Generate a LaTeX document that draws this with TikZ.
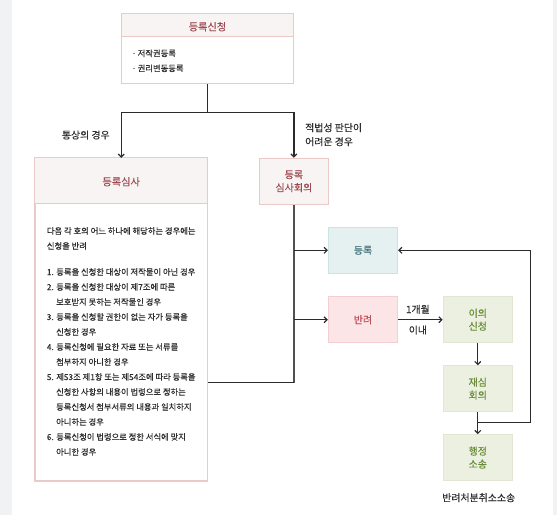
\documentclass[tikz,border=0pt]{standalone}
\usepackage{fontspec}
\setmainfont{Noto Sans CJK KR}[BoldFont=Noto Sans CJK KR,BoldFeatures={FakeBold=0.3}]
\usetikzlibrary{arrows.meta,calc}
\definecolor{stripgray}{HTML}{F1F2F4}
\definecolor{pinkline}{HTML}{EBC9C7}
\definecolor{headfill}{HTML}{F8F4F3}
\definecolor{titlered}{HTML}{9E4A52}
\definecolor{bodytext}{HTML}{2E2E2E}
\definecolor{regfill}{HTML}{E5F0F1}
\definecolor{regline}{HTML}{CBE3E3}
\definecolor{regtext}{HTML}{3E6E77}
\definecolor{rejfill}{HTML}{FCE5E6}
\definecolor{rejline}{HTML}{F4CED1}
\definecolor{rejtext}{HTML}{BF4F5B}
\definecolor{grnfill}{HTML}{EBF0E0}
\definecolor{grnline}{HTML}{E0E8D3}
\definecolor{grntext}{HTML}{6A8C3A}
\definecolor{linecol}{HTML}{2B2B2B}
\definecolor{buscol}{HTML}{505050}
\tikzset{
  panel/.style={draw=pinkline,line width=0.9pt,fill=white,inner sep=0pt},
  smallbox/.style={minimum width=69.3pt,minimum height=46pt,inner sep=0pt,align=center,
    font=\fontsize{10}{13}\selectfont\bfseries},
  revbox/.style={smallbox,draw=pinkline,line width=0.9pt,fill=headfill,text=titlered},
  regbox/.style={smallbox,draw=regline,line width=0.9pt,fill=regfill,text=regtext},
  rejbox/.style={smallbox,draw=rejline,line width=0.9pt,fill=rejfill,text=rejtext},
  grnbox/.style={smallbox,draw=grnline,line width=0.9pt,fill=grnfill,text=grntext},
  titletxt/.style={text=titlered,font=\fontsize{10.2}{12}\selectfont\bfseries,inner sep=0pt},
  bodytxt/.style={text=bodytext,font=\fontsize{8.3}{15}\selectfont\bfseries,inner sep=0pt},
  lbl/.style={text=bodytext,font=\fontsize{9.9}{14}\selectfont\bfseries,inner sep=0pt},
  conn/.style={draw=linecol,line width=1.2pt},
  arr/.style={conn,-{Straight Barb[length=3pt,width=6pt]}},
}
\begin{document}
\begin{tikzpicture}[x=1pt,y=-1pt]
\useasboundingbox (0,0) rectangle (557,515);
\fill[white] (0,0) rectangle (557,515);
\fill[stripgray] (0,0) rectangle (11.7,515);
\fill[stripgray] (553,0) rectangle (557,515);

% top box
\node[panel,minimum width=171.6pt,minimum height=69pt] (req) at (207.5,48.8) {};
\fill[headfill] (req.north west) rectangle ($(req.north east)+(0,23)$);
\draw[pinkline,line width=0.9pt] (req.north west) rectangle (req.south east);
\draw[pinkline,line width=0.9pt] ($(req.north west)+(0,23)$) -- ($(req.north east)+(0,23)$);
\node[titletxt] (reqt) at (207.5,26.7) {등록신청};
\node[bodytxt,anchor=west] (reqb1) at (131.5,53.3) {·\,저작권등록};
\node[bodytxt,anchor=west] (reqb2) at (131.5,68.3) {·\,권리변동등록};

% exam box
\node[panel,minimum width=172.3pt,minimum height=322.4pt] (exam) at (121.2,319.5) {};
\fill[headfill] (exam.north west) rectangle ($(exam.north east)+(0,46)$);
\draw[pinkline,line width=0.9pt] (exam.north west) rectangle (exam.south east);
\draw[pinkline,line width=0.9pt] ($(exam.north west)+(0,46)$) -- ($(exam.north east)+(0,46)$);
\node[titletxt] (examt) at (121.2,181.7) {등록심사};
\node[bodytxt,anchor=north west,align=left] (examb) at (46.7,227.0) {%
다음 각 호의 어느 하나에 해당하는 경우에는\\
신청을 반려\\[11pt]
1. 등록을 신청한 대상이 저작물이 아닌 경우\\
2. 등록을 신청한 대상이 제7조에 따른\\
\hspace*{9.3pt}보호받지 못하는 저작물인 경우\\
3. 등록을 신청할 권한이 없는 자가 등록을\\
\hspace*{9.3pt}신청한 경우\\
4. 등록신청에 필요한 자료 또는 서류를\\
\hspace*{9.3pt}첨부하지 아니한 경우\\
5. 제53조 제1항 또는 제54조에 따라 등록을\\
\hspace*{9.3pt}신청한 사항의 내용이 법령으로 정하는\\
\hspace*{9.3pt}등록신청서 첨부서류의 내용과 일치하지\\
\hspace*{9.3pt}아니하는 경우\\
6. 등록신청이 법령으로 정한 서식에 맞지\\
\hspace*{9.3pt}아니한 경우};

% review board
\node[revbox] (rev) at (293.9,181.2) {등록\\심사회의};

% outcome boxes
\node[regbox] (reg) at (363,250.3) {등록};
\node[rejbox] (rej) at (363,319.7) {반려};
\node[grnbox] (obj) at (477.8,319.7) {이의\\신청};
\node[grnbox] (recon) at (477.8,388.7) {재심\\회의};
\node[grnbox] (suit) at (477.8,457.6) {행정\\소송};
\node[lbl] (suitl) at (478.7,497.7) {반려처분취소소송};

% labels
\node[lbl] (normal) at (85.8,135) {통상의 경우};
\node[lbl,anchor=west,align=left] (hard) at (305,134.7) {적법성 판단이\\어려운 경우};

% connectors
\coordinate (split) at (207.5,112.7);
\draw[conn] (req.south) -- (split);
\draw[arr] (split) -| (exam.north);
\draw[arr] (split) -| (rev.north);

\coordinate (bus) at (293.9,382.7);
\draw[conn,draw=buscol,line width=1.5pt] (rev.south) -- (bus);
\draw[conn] (exam.east |- bus) -- (bus);
\draw[arr] (rev.south |- reg.west) -- (reg.west);
\draw[arr] (rev.south |- rej.west) -- (rej.west);

\draw[arr] (rej.east) -- (obj.west)
  node[lbl,midway,yshift=10.4pt,xshift=-2.5pt] (month) {1개월}
  node[lbl,midway,yshift=-10.3pt,xshift=-2.5pt] (within) {이내};
\draw[arr] (obj.south) -- (recon.north);
\draw[arr] (recon.south) -- (suit.north);
\coordinate (fb) at (477.8,422.7);
\coordinate (fbc) at (530.7,422.7);
\draw[arr] (fb) -- (fbc) |- (reg.east);
\end{tikzpicture}
\end{document}
